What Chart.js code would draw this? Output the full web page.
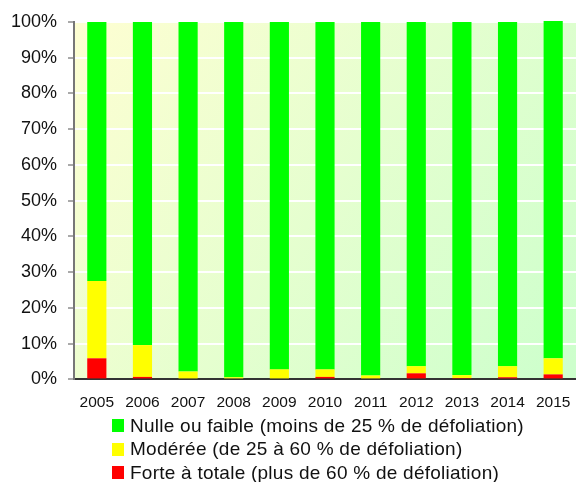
<!DOCTYPE html>
<html>
<head>
<meta charset="utf-8">
<script src="https://cdn.jsdelivr.net/npm/chart.js@4/dist/chart.umd.min.js"></script>
<style>
  body { margin: 0; background: #fff; font-family: Arial, "Liberation Sans", sans-serif; }
  #wrap { position: relative; width: 576px; height: 426px; }
  #legend { position: absolute; top: 414px; left: 112px; font-size: 19px; letter-spacing: 0.25px; color: #111; }
  .item { display: flex; align-items: center; height: 23.5px; white-space: nowrap; }
  .sw { width: 12px; height: 13px; margin-right: 6px; }
</style>
</head>
<body>
<div id="wrap"><canvas id="chart" width="576" height="426"></canvas></div>
<div id="legend"></div>
<script>
const years = ['2005', '2006', '2007', '2008', '2009', '2010', '2011', '2012', '2013', '2014', '2015'];
// share of trees per defoliation class (%)
const forte = [5.9, 0.7, 0, 0, 0, 0.7, 0, 1.7, 0.4, 0.6, 1.4];
const moderee = [21.6, 8.9, 2.2, 0.6, 2.8, 2.1, 1.1, 2.0, 0.8, 3.1, 4.5];
const nulle = [72.5, 90.4, 97.8, 99.4, 97.2, 97.2, 98.9, 96.3, 98.8, 96.3, 94.4];
const yTicks = [0, 10, 20, 30, 40, 50, 60, 70, 80, 90, 100];

const series = [
    { label: 'Nulle ou faible (moins de 25 % de défoliation)', data: nulle, color: '#00ff00' },
    { label: 'Modérée (de 25 à 60 % de défoliation)', data: moderee, color: '#ffff00' },
    { label: 'Forte à totale (plus de 60 % de défoliation)', data: forte, color: '#ff0000' }
];

// plot area gradient, light yellow to light green
const bgPlugin = {
    id: 'plotBg',
    beforeDraw(chart) {
        const a = chart.chartArea;
        const c = chart.ctx;
        const g = c.createLinearGradient(a.left, a.top, a.right, a.bottom);
        g.addColorStop(0, '#fefed2');
        g.addColorStop(1, '#ccffcc');
        c.save();
        c.fillStyle = g;
        c.fillRect(a.left, a.top, a.right - a.left, a.bottom - a.top);
        c.restore();
    }
};

const ctx = document.getElementById('chart').getContext('2d');
new Chart(ctx, {
    type: 'bar',
    data: {
        labels: years,
        // stacked bottom-up: red, yellow, green
        datasets: series.slice().reverse().map(s => ({
            label: s.label,
            data: s.data,
            backgroundColor: s.color,
            borderWidth: 0,
            categoryPercentage: 1,
            barPercentage: 0.42,
            clip: false
        }))
    },
    options: {
        responsive: false,
        animation: false,
        layout: { padding: { top: 22, right: 0, left: 0, bottom: 0 } },
        plugins: {
            legend: { display: false },
            tooltip: { enabled: false }
        },
        scales: {
            x: {
                stacked: true,
                offset: true,
                afterFit: scale => { scale.paddingRight = 0; },
                grid: { display: false, drawTicks: false },
                border: { color: '#333', width: 2 },
                ticks: { color: '#111', font: { family: 'Arial', size: 15.5 }, padding: 14, maxRotation: 0 }
            },
            y: {
                stacked: true,
                min: 0,
                max: 100,
                afterBuildTicks: scale => { scale.ticks = yTicks.map(v => ({ value: v })); },
                afterFit: scale => { scale.width = 74; },
                grid: { color: '#ffffff', lineWidth: 2, tickLength: 6, tickColor: '#555', tickWidth: 1 },
                border: { color: '#777', width: 2 },
                ticks: {
                    color: '#111',
                    font: { family: 'Arial', size: 18 },
                    padding: 11,
                    callback: v => v + '%'
                }
            }
        }
    },
    plugins: [bgPlugin]
});

// legend as html, left aligned rows
const legend = document.getElementById('legend');
series.forEach(s => {
    const row = document.createElement('div');
    row.className = 'item';
    const sw = document.createElement('span');
    sw.className = 'sw';
    sw.style.background = s.color;
    const txt = document.createElement('span');
    txt.textContent = s.label;
    row.appendChild(sw);
    row.appendChild(txt);
    legend.appendChild(row);
});
</script>
</body>
</html>
